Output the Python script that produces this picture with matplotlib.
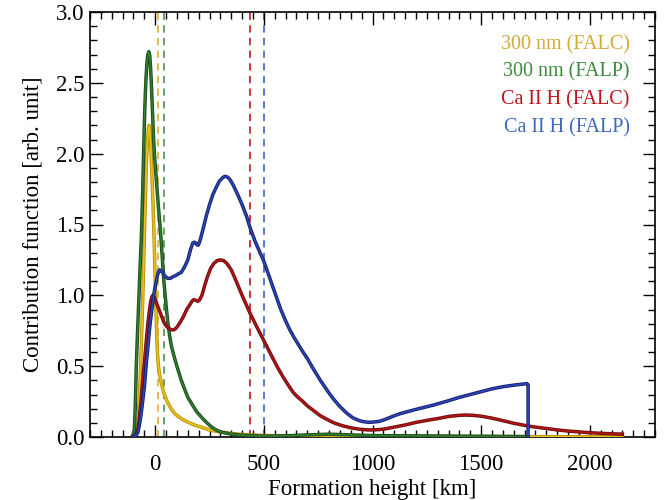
import numpy as np
import matplotlib
matplotlib.use('Agg')
import matplotlib.pyplot as plt
import matplotlib.patheffects as pe
from matplotlib.ticker import MultipleLocator

plt.rcParams['font.family'] = ['Liberation Serif', 'DejaVu Serif']

# 300 nm (FALC)
h_300c = [-105, -95, -87, -80, -73, -67, -61, -55, -49, -44, -40, -35, -31, -28, -25, -20, -15,
          -10, -5, 0, 5, 10, 15, 20, 30, 40, 55, 73, 90, 110, 130, 150, 180, 210, 250, 300, 350,
          400, 500, 700, 1000, 1500, 2000, 2150]
cf_300c = [0, 0, 0.02, 0.1, 0.28, 0.5, 0.78, 1.1, 1.46, 1.75, 1.95, 2.1, 2.18, 2.20, 2.17, 2.05,
           1.85, 1.65, 1.40, 1.1, 0.82, 0.6, 0.5, 0.44, 0.37, 0.31, 0.25, 0.20, 0.165, 0.14, 0.12,
           0.105, 0.085, 0.07, 0.05, 0.035, 0.025, 0.018, 0.01, 0.007, 0.005, 0.003, 0.002, 0.002]

# 300 nm (FALP)
h_300p = [-105, -96, -92, -87, -81, -75, -70, -64, -59, -55, -50, -46, -42, -38, -34, -29, -25,
          -21, -17, -12, -8, -3, 5, 15, 24, 32, 40, 50, 58, 67, 75, 85, 96, 108, 120, 135, 150,
          170, 190, 210, 225, 245, 260, 280, 303, 350, 400, 500, 600, 700, 800, 900, 1000, 1200,
          1500, 1716]
cf_300p = [0, 0.05, 0.2, 0.5, 0.75, 0.98, 1.18, 1.40, 1.65, 1.9, 2.2, 2.4, 2.54, 2.64, 2.7, 2.72,
           2.69, 2.6, 2.47, 2.28, 2.12, 1.98, 1.82, 1.62, 1.46, 1.28, 1.1, 0.93, 0.81, 0.71, 0.64,
           0.58, 0.52, 0.46, 0.40, 0.34, 0.28, 0.23, 0.18, 0.145, 0.12, 0.09, 0.07, 0.05, 0.035,
           0.02, 0.012, 0.006, 0.008, 0.015, 0.02, 0.015, 0.01, 0.008, 0.005, 0.003]

# Ca II H (FALC)
h_cac = [-105, -90, -80, -75, -70, -65, -60, -55, -50, -45, -41, -35, -30, -25, -20, -15, -11,
         -7, -2, 5, 12, 20, 30, 40, 50, 60, 70, 81, 90, 100, 115, 130, 145, 160, 170, 178, 187,
         195, 203, 215, 228, 240, 255, 270, 285, 300, 315, 330, 350, 370, 400, 436, 470, 500, 530,
         560, 590, 615, 635, 650, 665, 680, 700, 730, 760, 790, 822, 860, 900, 940, 977, 1010,
         1050, 1100, 1150, 1206, 1260, 1300, 1350, 1400, 1430, 1460, 1500, 1550, 1587, 1620, 1650,
         1700, 1739, 1800, 1850, 1900, 2000, 2080, 2150]
cf_cac = [0, 0.01, 0.05, 0.1, 0.18, 0.26, 0.35, 0.44, 0.52, 0.61, 0.68, 0.78, 0.85, 0.91, 0.96,
          0.99, 1.00, 0.995, 0.98, 0.95, 0.92, 0.89, 0.85, 0.81, 0.785, 0.77, 0.76, 0.755, 0.76,
          0.775, 0.81, 0.85, 0.9, 0.935, 0.96, 0.97, 0.965, 0.958, 0.965, 1.0, 1.07, 1.13, 1.19,
          1.225, 1.245, 1.25, 1.245, 1.225, 1.18, 1.11, 1.0, 0.875, 0.77, 0.68, 0.59, 0.5, 0.42,
          0.36, 0.315, 0.29, 0.27, 0.25, 0.22, 0.185, 0.15, 0.125, 0.10, 0.08, 0.065, 0.055, 0.05,
          0.05, 0.055, 0.07, 0.085, 0.105, 0.12, 0.13, 0.145, 0.153, 0.155, 0.153, 0.147, 0.133,
          0.12, 0.108, 0.097, 0.082, 0.072, 0.06, 0.05, 0.042, 0.03, 0.024, 0.02]

# Ca II H (FALP)
h_cap = [-105, -90, -80, -72, -64, -57, -50, -45, -41, -35, -30, -24, -18, -12, -5, 0, 5, 12, 20,
         27, 35, 45, 58, 70, 80, 95, 110, 119, 135, 150, 162, 173, 180, 186, 193, 199, 207, 219,
         235, 250, 265, 280, 295, 310, 320, 333, 345, 360, 380, 400, 420, 436, 460, 480, 500, 530,
         555, 578, 600, 620, 640, 660, 680, 702, 720, 738, 760, 780, 800, 822, 850, 880, 910, 940,
         960, 980, 1000, 1030, 1060, 1100, 1128, 1200, 1280, 1358, 1400, 1450, 1500, 1550, 1600,
         1650, 1690, 1710, 1716, 1716]
cf_cap = [0, 0.01, 0.03, 0.09, 0.17, 0.26, 0.35, 0.44, 0.52, 0.61, 0.70, 0.79, 0.87, 0.94, 1.02,
          1.06, 1.10, 1.15, 1.18, 1.175, 1.16, 1.135, 1.12, 1.12, 1.13, 1.14, 1.155, 1.16, 1.2,
          1.25, 1.32, 1.37, 1.375, 1.37, 1.355, 1.355, 1.39, 1.46, 1.56, 1.64, 1.71, 1.76, 1.805,
          1.83, 1.84, 1.835, 1.815, 1.775, 1.71, 1.64, 1.56, 1.48, 1.38, 1.31, 1.24, 1.11, 1.0,
          0.9, 0.82, 0.755, 0.70, 0.65, 0.60, 0.55, 0.50, 0.455, 0.40, 0.355, 0.31, 0.265, 0.215,
          0.17, 0.135, 0.115, 0.108, 0.104, 0.105, 0.11, 0.125, 0.15, 0.165, 0.195, 0.225, 0.26,
          0.28, 0.30, 0.32, 0.34, 0.355, 0.366, 0.373, 0.377, 0.37, 0.0]

# mean formation heights (dashed)
h_mean = [14, 41, 436, 500]

labels = ['300 nm (FALC)', '300 nm (FALP)', 'Ca II H (FALC)', 'Ca II H (FALP)']
line_col = ['#e8c21a', '#2f7d2f', '#b01515', '#2b47b5']
edge_col = ['#b8900a', '#1d4a1d', '#6e0d0d', '#141d6a']
dash_col = ['#d9b54a', '#5c9a5c', '#c42a2a', '#4a72c4']
text_col = ['#d4a935', '#3c8a3c', '#c0141c', '#3c68c0']

fig = plt.figure(figsize=(6.65, 5), dpi=100)
ax = fig.add_axes([90 / 665, 63 / 500, 565 / 665, 425 / 500])

for h, c in zip(h_mean, dash_col):
    ax.axvline(h, color=c, lw=1.3, ls=(0, (4, 3)), zorder=1)

curves = [(h_300c, cf_300c), (h_300p, cf_300p), (h_cac, cf_cac), (h_cap, cf_cap)]
for i in [2, 3, 1, 0]:
    x, y = curves[i]
    ax.plot(x, y, color=line_col[i], lw=1.2, zorder=3 + i * 0.1, solid_joinstyle='round',
            path_effects=[pe.Stroke(linewidth=2.5, foreground=edge_col[i]), pe.Normal()])

for i, (lab, c) in enumerate(zip(labels, text_col)):
    ax.text(0.955, 0.923 - i * 0.065, lab, color=c, fontsize=14.5,
            ha='right', va='center', transform=ax.transAxes)

ax.set_xlim(-300, 2300)
ax.set_ylim(0, 3.0)
ax.xaxis.set_minor_locator(MultipleLocator(50))
ax.yaxis.set_minor_locator(MultipleLocator(0.1))
ax.set_xticks([0, 500, 1000, 1500, 2000])
ax.set_yticks([0, 0.5, 1.0, 1.5, 2.0, 2.5, 3.0])
ax.set_yticklabels(['0.0', '0.5', '1.0', '1.5', '2.0', '2.5', '3.0'])
ax.tick_params(which='both', direction='in', top=True, right=True, width=1.0,
               labelsize=16.5)
ax.tick_params(axis='x', which='major', pad=12)
ax.tick_params(axis='y', which='major', pad=4)
ax.tick_params(which='major', length=9)
ax.tick_params(which='minor', length=5)
for s in ax.spines.values():
    s.set_linewidth(1.2)

ax.set_xlabel('Formation height [km]', fontsize=16.5, labelpad=3)
ax.set_ylabel('Contribution function [arb. unit]', fontsize=16.5, labelpad=9)

fig.savefig('out.png', dpi=100)
